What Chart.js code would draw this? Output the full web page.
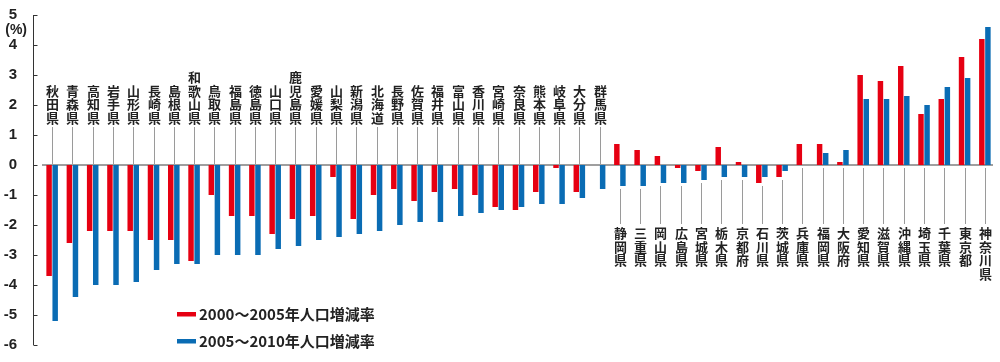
<!DOCTYPE html>
<html>
<head>
<meta charset="utf-8">
<script src="https://cdn.jsdelivr.net/npm/chart.js@4/dist/chart.umd.min.js"></script>
<style>
  html, body { margin: 0; padding: 0; background: #fff; }
  #wrap { width: 1000px; height: 362px; }
</style>
</head>
<body>
<div id="wrap"><canvas id="diagramCanvas"></canvas></div>
<script>
//Chart data
const prefectureNames = ['秋田県', '青森県', '高知県', '岩手県', '山形県', '長崎県', '島根県', '和歌山県', '鳥取県', '福島県',
    '徳島県', '山口県', '鹿児島県', '愛媛県', '山梨県', '新潟県', '北海道', '長野県', '佐賀県', '福井県',
    '富山県', '香川県', '宮崎県', '奈良県', '熊本県', '岐阜県', '大分県', '群馬県', '静岡県', '三重県',
    '岡山県', '広島県', '宮城県', '栃木県', '京都府', '石川県', '茨城県', '兵庫県', '福岡県', '大阪府',
    '愛知県', '滋賀県', '沖縄県', '埼玉県', '千葉県', '東京都', '神奈川県']

const change2000to2005 = [-3.7, -2.6, -2.2, -2.2, -2.2, -2.5, -2.5, -3.2, -1.0, -1.7,
    -1.7, -2.3, -1.8, -1.7, -0.4, -1.8, -1.0, -0.8, -1.2, -0.9,
    -0.8, -1.0, -1.4, -1.5, -0.9, -0.1, -0.9, 0, 0.7, 0.5,
    0.3, -0.1, -0.2, 0.6, 0.1, -0.6, -0.4, 0.7, 0.7, 0.1,
    3.0, 2.8, 3.3, 1.7, 2.2, 3.6, 4.2]

const change2005to2010 = [-5.2, -4.4, -4.0, -4.0, -3.9, -3.5, -3.3, -3.3, -3.0, -3.0,
    -3.0, -2.8, -2.7, -2.5, -2.4, -2.3, -2.2, -2.0, -1.9, -1.9,
    -1.7, -1.6, -1.5, -1.4, -1.3, -1.3, -1.1, -0.8, -0.7, -0.7,
    -0.6, -0.6, -0.5, -0.4, -0.4, -0.4, -0.2, 0, 0.4, 0.5,
    2.2, 2.2, 2.3, 2.0, 2.6, 2.9, 4.6]

const seriesNames = ['2000～2005年人口増減率', '2005～2010年人口増減率']
const seriesColors = ['#e60012', '#0a6cb4']

const yMin = -6
const yMax = 5
const unitLabel = '(%)'

//labels of the first categories sit above the zero line, the rest below
const labelsAboveCount = 28

const labelFont = 'bold 13px "Noto Sans CJK JP"'



//Drawing of axis line, zero line, prefecture labels and legend
const decorationPlugin =
{
    id: 'decorations',
    beforeDatasetsDraw(chart)
    {
        const ctx = chart.ctx
        const area = chart.chartArea
        const y = chart.scales.y

        ctx.save()
        //zero line
        ctx.strokeStyle = '#7f7f7f'
        ctx.lineWidth = 1.5
        ctx.beginPath()
        ctx.moveTo(area.left, y.getPixelForValue(0))
        ctx.lineTo(area.right - 2, y.getPixelForValue(0))
        ctx.stroke()

        //y axis line with ticks pointing right
        const axisX = 33.5
        ctx.strokeStyle = '#333'
        ctx.lineWidth = 1
        ctx.beginPath()
        ctx.moveTo(axisX, y.getPixelForValue(yMax))
        ctx.lineTo(axisX, y.getPixelForValue(yMin))
        for (let v = yMin; v <= yMax; v++)
        {
            const py = Math.round(y.getPixelForValue(v)) + 0.5
            ctx.moveTo(axisX, py)
            ctx.lineTo(axisX + 4, py)
        }
        ctx.stroke()

        //unit
        ctx.fillStyle = '#222'
        ctx.font = 'bold 14px "Liberation Sans"'
        ctx.textAlign = 'right'
        ctx.textBaseline = 'middle'
        ctx.fillText(unitLabel, 27, 30)
        ctx.restore()
    },
    afterDatasetsDraw(chart)
    {
        const ctx = chart.ctx
        const x = chart.scales.x
        const y = chart.scales.y
        const zeroY = y.getPixelForValue(0)
        const step = 13.7

        ctx.save()
        ctx.font = labelFont
        ctx.textAlign = 'center'
        ctx.textBaseline = 'middle'

        prefectureNames.forEach((name, i) =>
        {
            const px = Math.round(x.getPixelForValue(i)) + 0.5
            const chars = Array.from(name)

            ctx.strokeStyle = '#9a9a9a'
            ctx.lineWidth = 1
            ctx.beginPath()
            if (i < labelsAboveCount)
            {
                ctx.moveTo(px, 127)
                ctx.lineTo(px, zeroY - 1)
                ctx.stroke()
                chars.forEach((c, k) =>
                {
                    ctx.fillStyle = '#222'
                    ctx.fillText(c, px, 118 - (chars.length - 1 - k) * step)
                })
            }
            else
            {
                const lowest = Math.min(0, change2000to2005[i], change2005to2010[i])
                ctx.moveTo(px, y.getPixelForValue(lowest) + 3)
                ctx.lineTo(px, 224)
                ctx.stroke()
                chars.forEach((c, k) =>
                {
                    ctx.fillStyle = '#222'
                    ctx.fillText(c, px, 233 + k * step)
                })
            }
        })

        //legend
        ctx.textAlign = 'left'
        ctx.font = 'bold 15px "Noto Sans CJK JP"'
        chart.data.datasets.forEach((ds, k) =>
        {
            const ly = 314 + k * 27
            ctx.fillStyle = ds.backgroundColor
            ctx.fillRect(177, ly - 2, 19, 4.5)
            ctx.fillStyle = '#222'
            ctx.fillText(ds.label, 199, ly)
        })
        ctx.restore()
    }
}



//Create the chart
const diagramCanvas = document.getElementById('diagramCanvas')
const diagramChart = new Chart(
    diagramCanvas,
    {
        type: 'bar',
        data:
        {
            labels: prefectureNames,
            datasets:
            [
                {
                    label: seriesNames[0],
                    data: change2000to2005,
                    backgroundColor: seriesColors[0]
                },
                {
                    label: seriesNames[1],
                    data: change2005to2010,
                    backgroundColor: seriesColors[1]
                }
            ]
        },
        options:
        {
            responsive: true,
            maintainAspectRatio: false,
            animation: false,
            categoryPercentage: 0.6,
            barPercentage: 0.9,
            layout:
            {
                padding: { top: 15, bottom: 17, right: 5, left: 0 }
            },
            scales:
            {
                x:
                {
                    display: false
                },
                y:
                {
                    min: yMin,
                    max: yMax,
                    afterFit: scale =>
                    {
                        scale.width = 42
                        scale.paddingTop = 0
                        scale.paddingBottom = 0
                    },
                    grid: { display: false },
                    border: { display: false },
                    ticks:
                    {
                        stepSize: 1,
                        padding: 17,
                        color: '#222',
                        font: { family: 'Liberation Sans', size: 15, weight: 'bold' }
                    }
                }
            },
            plugins:
            {
                legend: { display: false },
                tooltip: { enabled: false }
            }
        },
        plugins: [decorationPlugin]
    }
)
</script>
</body>
</html>
